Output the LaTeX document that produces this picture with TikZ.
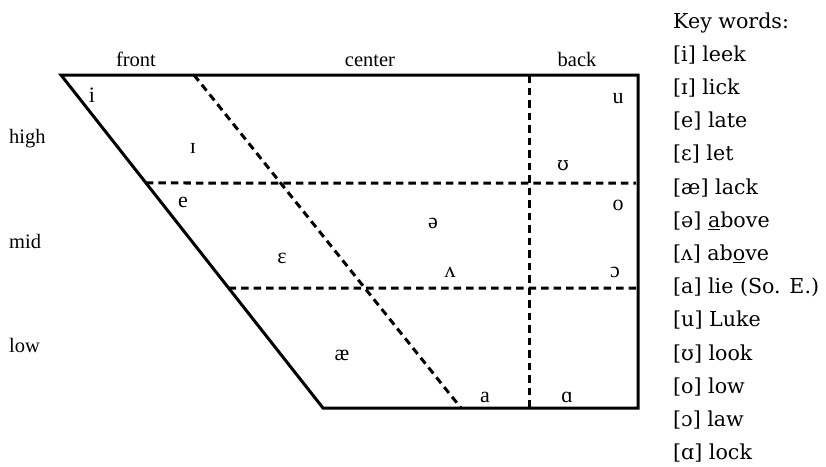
\documentclass[tikz,border=0pt]{standalone}
\usepackage{fontspec}
\usetikzlibrary{calc}
\setmainfont{Liberation Serif}
\newfontfamily\keyfont{DejaVu Serif}
\begin{document}
\begin{tikzpicture}[x=1pt,y=-1pt,
  frame/.style={line width=3pt,line join=miter,line cap=butt},
  divider/.style={line width=3pt,dash pattern=on 7.5pt off 5pt},
  axislabel/.style={font=\fontsize{20.5}{24}\selectfont,inner sep=0pt,anchor=base},
  sidelabel/.style={font=\fontsize{20.5}{24}\selectfont,inner sep=0pt,anchor=base west},
  vowel/.style={font=\fontsize{22}{26}\selectfont,inner sep=0pt,anchor=base},
  keyword/.style={font=\keyfont\fontsize{20.6}{24}\selectfont,inner sep=0pt,anchor=base west}]
\useasboundingbox (0,0) rectangle (826,466);

% corners of the vowel quadrilateral
\coordinate (TL) at (61,75);
\coordinate (TR) at (638,75);
\coordinate (BR) at (638,408);
\coordinate (BL) at (323,408);
% ends of the dividing lines
\coordinate (HighL) at ($(TL)!{108/333}!(BL)$);
\coordinate (HighR) at (636,183);
\coordinate (MidL) at ($(TL)!{213/333}!(BL)$);
\coordinate (MidR) at (636,288);
\coordinate (FrontT) at (194,75);
\coordinate (FrontB) at (461,408);
\coordinate (BackT) at (529,75);
\coordinate (BackB) at (529,408);

% dividers
\draw[divider] (HighL) -- (HighR);
\draw[divider] (MidL) -- (MidR);
\draw[divider] (FrontT) -- (FrontB);
\draw[divider] (BackT) -- (BackB);
% outline
\draw[frame] (TL) -- (TR) -- (BR) -- (BL) -- cycle;

% column and row labels
\node[axislabel] (front) at (136,66) {front};
\node[axislabel] (center) at (370,66) {center};
\node[axislabel] (back) at (577,66) {back};
\node[sidelabel] (high) at (9,143) {high};
\node[sidelabel] (mid) at (9,248) {mid};
\node[sidelabel] (low) at (9,352) {low};

% vowels
\node[vowel] (vi) at (92,102) {i};
\node[vowel] (vI) at (193,153) {ɪ};
\node[vowel] (ve) at (183,207) {e};
\node[vowel] (vu) at (618,103) {u};
\node[vowel] (vU) at (563,170) {\keyfont\fontsize{19}{24}\selectfont ʊ};
\node[vowel] (vo) at (618,210) {o};
\node[vowel] (vschwa) at (433,228) {ə};
\node[vowel] (vE) at (282,263) {ɛ};
\node[vowel] (vV) at (450,277) {ʌ};
\node[vowel] (vO) at (615,277) {ɔ};
\node[vowel] (vae) at (342,360) {æ};
\node[vowel] (va) at (485,402) {a};
\node[vowel] (vA) at (567,402) {ɑ};

% key words
\foreach \i/\t in {0/{Key words:},1/{[i] leek},2/{[ɪ] lick},3/{[e] late},
  4/{[ɛ] let},5/{[æ] lack},6/{[ə] \underline{a}bove},7/{[ʌ] ab\underline{o}ve},
  8/{[a] lie (So. E.)},9/{[u] Luke},10/{[ʊ] look},11/{[o] low},
  12/{[ɔ] law},13/{[ɑ] lock}}
  \node[keyword] (k\i) at (673,28+33.2*\i) {\t};
\end{tikzpicture}
\end{document}
